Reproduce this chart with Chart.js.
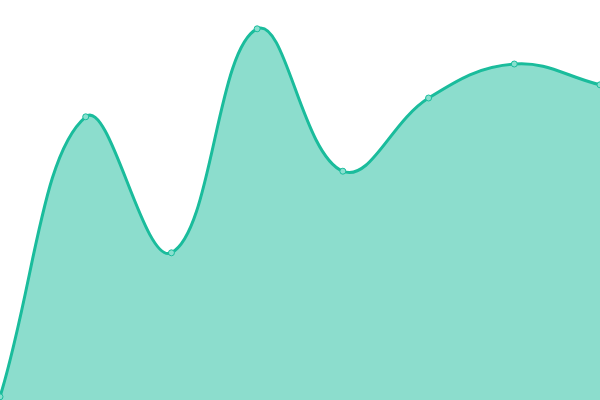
<!DOCTYPE html>
<html><head><meta charset="utf-8">
<script src="https://cdn.jsdelivr.net/npm/chart.js@4"></script>
<style>html,body{margin:0;padding:0;background:#fff}#wrap{width:600px;height:400px}</style>
</head><body><div id="wrap"><canvas id="c"></canvas></div>
<script>
const labels = ["1","2","3","4","5","6","7","8"];
const values = [0.8, 70.8, 36.8, 92.8, 57.2, 75.5, 84, 78.8];
new Chart(document.getElementById('c'), {
  type: 'line',
  data: { labels: labels, datasets: [{
    data: values,
    fill: true,
    backgroundColor: 'rgba(26,188,156,0.5)',
    borderColor: '#1abc9c',
    borderWidth: 3,
    pointRadius: 3,
    pointBackgroundColor: 'rgba(137,224,207,1)',
    pointBorderColor: '#1abc9c',
    pointBorderWidth: 1,
    tension: 0.4
  }]},
  options: {
    responsive: true, maintainAspectRatio: false, animation: false,
    layout: { padding: 0, autoPadding: false },
    plugins: { legend: { display: false }, tooltip: { enabled: false } },
    scales: {
      x: { display: false, offset: false },
      y: { display: false, min: 0, max: 100 }
    }
  }
});
</script></body></html>
